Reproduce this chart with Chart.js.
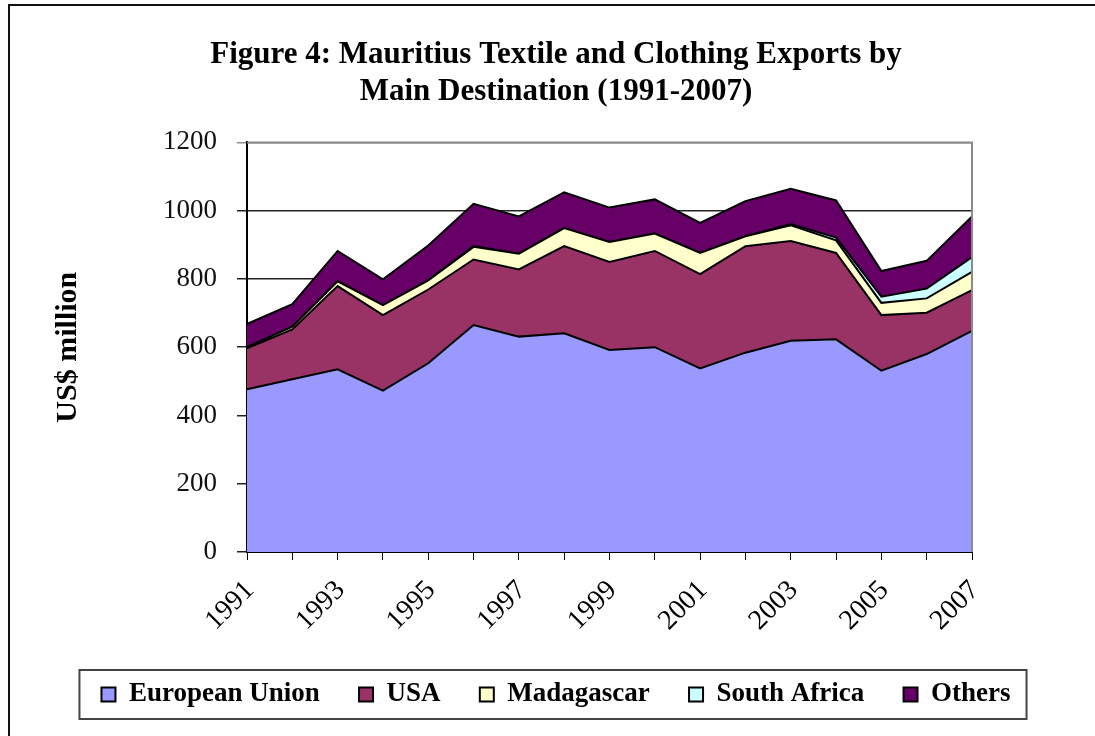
<!DOCTYPE html>
<html>
<head>
<meta charset="utf-8">
<script src="https://cdn.jsdelivr.net/npm/chart.js@4"></script>
<style>
  html, body { margin: 0; padding: 0; background: #fff; }
  #wrap { width: 1095px; height: 736px; position: relative; }
</style>
</head>
<body>
<div id="wrap"><canvas id="exports-chart"></canvas></div>
<script>
// US$ million
const years = ['1991', '1992', '1993', '1994', '1995', '1996', '1997', '1998', '1999',
    '2000', '2001', '2002', '2003', '2004', '2005', '2006', '2007'];
const europeanUnion = [477, 506, 535, 473, 553, 665, 631, 641, 592, 600, 538, 584, 619, 623, 531, 580, 648];
const usa = [120, 146, 244, 221, 216, 192, 197, 255, 258, 282, 276, 312, 292, 253, 163, 121, 119];
const madagascar = [3, 8, 14, 29, 27, 37, 46, 53, 58, 51, 62, 29, 46, 37, 36, 42, 54];
const southAfrica = [0, 0, 0, 0, 0, 2, 0, 0, 0, 0, 0, 0, 4, 8, 18, 29, 43];
const others = [68, 66, 89, 76, 102, 124, 109, 105, 101, 100, 88, 103, 103, 109, 75, 81, 119];
const yTicks = [0, 200, 400, 600, 800, 1000, 1200];

const serif = "'Liberation Serif', 'Times New Roman', serif";

function area(label, data, color, fill) {
    return {
        label: label,
        data: data,
        backgroundColor: color,
        borderColor: '#000',
        borderWidth: 2,
        pointRadius: 0,
        tension: 0,
        fill: fill
    };
}

// frame around the figure, plot box and legend
const framePlugin = {
    id: 'frames',
    afterDraw(chart) {
        const ctx = chart.ctx;
        const a = chart.chartArea;
        ctx.save();
        ctx.strokeStyle = '#8a8a8a';
        ctx.lineWidth = 2;
        ctx.beginPath();
        ctx.moveTo(a.left, a.top);
        ctx.lineTo(a.right, a.top);
        ctx.lineTo(a.right, a.bottom);
        ctx.stroke();

        ctx.strokeStyle = '#111';
        ctx.lineWidth = 2;
        ctx.beginPath();
        ctx.moveTo(9, 736);
        ctx.lineTo(9, 5);
        ctx.lineTo(1095, 5);
        ctx.stroke();

        const boxes = chart.legend.legendHitBoxes;
        if (boxes && boxes.length) {
            let l = Infinity, r = -Infinity, t = Infinity, b = -Infinity;
            boxes.forEach(function (h) {
                l = Math.min(l, h.left); r = Math.max(r, h.left + h.width);
                t = Math.min(t, h.top); b = Math.max(b, h.top + h.height);
            });
            ctx.strokeStyle = '#444';
            ctx.lineWidth = 2;
            ctx.strokeRect(l - 22, t - 11, (r - l) + 38, (b - t) + 22);
        }
        ctx.restore();
    }
};

new Chart(document.getElementById('exports-chart'), {
    type: 'line',
    data: {
        labels: years,
        datasets: [
            area('European Union', europeanUnion, '#9999FF', 'origin'),
            area('USA', usa, '#993366', '-1'),
            area('Madagascar', madagascar, '#FFFFCC', '-1'),
            area('South Africa', southAfrica, '#CCFFFF', '-1'),
            area('Others', others, '#660066', '-1')
        ]
    },
    options: {
        responsive: true,
        maintainAspectRatio: false,
        animation: false,
        layout: { padding: { left: 40, right: 23, top: 0, bottom: 18 } },
        plugins: {
            title: {
                display: true,
                text: ['Figure 4: Mauritius Textile and Clothing Exports by', 'Main Destination (1991-2007)'],
                color: '#000',
                font: { family: serif, size: 31, weight: 'bold', lineHeight: 1.2 },
                padding: { top: 36, bottom: 32 }
            },
            legend: {
                position: 'bottom',
                labels: {
                    color: '#000',
                    font: { family: serif, size: 27, weight: 'bold' },
                    boxWidth: 14,
                    boxHeight: 14,
                    padding: 10,
                    generateLabels: function (chart) {
                        const items = Chart.defaults.plugins.legend.labels.generateLabels(chart);
                        items.forEach(function (it, i) {
                            if (i < items.length - 1) it.text = it.text + '\u2003\u200A';
                        });
                        return items;
                    }
                }
            },
            tooltip: { enabled: false }
        },
        scales: {
            x: {
                offset: false,
                grid: { drawOnChartArea: false, drawTicks: true, tickLength: 8, color: '#000' },
                border: { color: '#000', width: 2 },
                ticks: {
                    autoSkip: false,
                    maxRotation: 45,
                    minRotation: 45,
                    padding: 14,
                    labelOffset: 3,
                    color: '#000',
                    font: { family: serif, size: 28 },
                    callback: function (value, index) {
                        return index % 2 === 0 ? years[index] : '';
                    }
                },
                afterFit: function (scale) { scale.height = 119; }
            },
            y: {
                stacked: true,
                min: 0,
                max: 1200,
                afterBuildTicks: function (scale) {
                    scale.ticks = yTicks.map(function (v) { return { value: v }; });
                },
                grid: {
                    color: function (c) { return c.tick && c.tick.value === 1200 ? '#8a8a8a' : '#222'; },
                    lineWidth: 1.5,
                    tickLength: 10
                },
                border: { color: '#000', width: 2 },
                ticks: {
                    padding: 20,
                    color: '#111',
                    font: { family: serif, size: 27 },
                    callback: function (value) { return String(value); }
                },
                title: {
                    display: true,
                    text: 'US$ million',
                    color: '#000',
                    font: { family: serif, size: 30, weight: 'bold', lineHeight: 1.2 },
                    padding: { top: 10, bottom: 0 }
                },
                afterFit: function (scale) { scale.width = 207; }
            },
            // empty right-hand axis, keeps the plot narrower than the title area
            spacer: {
                type: 'linear',
                position: 'right',
                display: true,
                grid: { display: false, drawTicks: false },
                border: { display: false },
                ticks: { display: false },
                afterFit: function (scale) { scale.width = 100; }
            }
        }
    },
    plugins: [framePlugin]
});
</script>
</body>
</html>
